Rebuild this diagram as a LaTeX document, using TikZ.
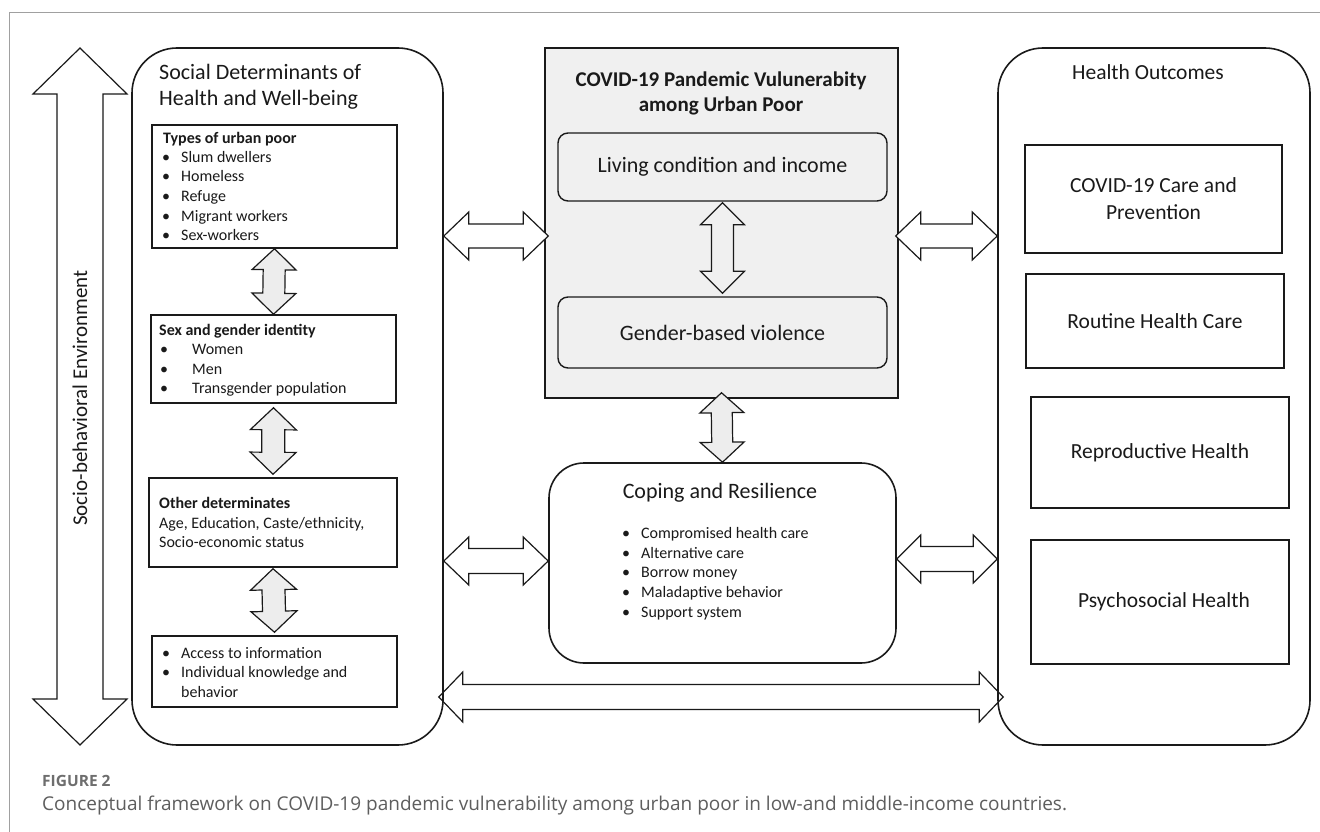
\documentclass[tikz,border=0pt]{standalone}
\usepackage{fontspec}
\setmainfont{Carlito}
\newfontfamily\capfont{Open Sans}
\usetikzlibrary{calc}
\definecolor{boxgray}{HTML}{F0F0F0}
\definecolor{arrgray}{HTML}{EDEDED}
\definecolor{ink}{HTML}{1A1A1A}
\definecolor{framegray}{HTML}{A0A0A0}
\definecolor{capgray}{HTML}{5E5E5E}
\newcommand{\fs}[2]{\fontsize{#1}{#2}\selectfont}
\newcommand{\bl}[1]{\makebox[#1][l]{\textbullet}}
\newcommand{\dblarrow}[6][]{%
  \coordinate (dA) at (#2);
  \coordinate (dB) at (#3);
  \coordinate (hA) at ($(dA)!#4!(dB)$);
  \coordinate (hB) at ($(dB)!#4!(dA)$);
  \draw[dblarr,#1] (dA) -- ($(hA)!#5!90:(dB)$) -- ($(hA)!#6!90:(dB)$)
    -- ($(hB)!#6!-90:(dA)$) -- ($(hB)!#5!-90:(dA)$) -- (dB)
    -- ($(hB)!#5!90:(dA)$) -- ($(hB)!#6!90:(dA)$)
    -- ($(hA)!#6!-90:(dB)$) -- ($(hA)!#5!-90:(dB)$) -- cycle;
}
\tikzset{
  bigbox/.style={draw=ink, line width=1.6pt, rounded corners=45pt, inner sep=0pt},
  sqbox/.style={draw=ink, line width=1.5pt, inner sep=0pt},
  rbox/.style={draw=ink, line width=1.4pt, rounded corners=10pt, inner sep=0pt, text=ink},
  dblarr/.style={draw=ink, line width=1.2pt, line join=miter},
  txt/.style={inner sep=0pt, anchor=base west, text=ink},
  ctxt/.style={inner sep=0pt, anchor=base, text=ink},
}
\begin{document}
\begin{tikzpicture}[x=1pt,y=-1pt]
\useasboundingbox (0,0) rectangle (1320,832);
\fill[white] (0,0) rectangle (1320,832);
\draw[framegray, line width=1pt] (1321,13) -- (9,13) -- (9,833);

% level coordinates
\coordinate (y236) at (0,236);
\coordinate (y561) at (0,561);
\coordinate (y559) at (0,559);
\coordinate (y697) at (0,697);

% big containers
\node[bigbox, minimum width=311pt, minimum height=697pt] (L) at (287.5,396.5) {};
\node[bigbox, minimum width=312pt, minimum height=697pt] (R) at (1154,396.5) {};
\node[sqbox, fill=boxgray, minimum width=353pt, minimum height=350pt] (G) at (721.5,223) {};
\node[rbox, fill=boxgray, minimum width=329pt, minimum height=68pt, font=\fs{22}{26}] (Liv) at (722.5,167) {Living condition and income};
\node[rbox, fill=boxgray, minimum width=329pt, minimum height=71pt, font=\fs{22}{26}] (Gen) at (722.5,332.5) {Gender-based violence};
\node[bigbox, rounded corners=35pt, minimum width=347pt, minimum height=200pt] (C) at (722.5,563) {};

% right boxes
\node[sqbox, text=ink, align=center, minimum width=257pt, minimum height=108pt, font=\fs{21.5}{27}] (R1) at (1153.5,199) {COVID-19 Care and\\Prevention};
\node[sqbox, text=ink, minimum width=258pt, minimum height=94pt, font=\fs{21.5}{26}] (R2) at (1155,321) {Routine Health Care};
\node[sqbox, text=ink, minimum width=258pt, minimum height=111pt, font=\fs{21.5}{26}] (R3) at (1160,452.5) {Reproductive Health};
\node[sqbox, text=ink, minimum width=258pt, minimum height=124pt, font=\fs{21.5}{26}] (R4) at (1160,602) {\hspace*{8pt}Psychosocial Health};

% left boxes
\node[sqbox, minimum width=245pt, minimum height=123pt] (B1) at (274.5,186.5) {};
\node[sqbox, minimum width=245pt, minimum height=88pt] (B2) at (273.5,359) {};
\node[sqbox, minimum width=248pt, minimum height=89pt] (B3) at (273,522.5) {};
\node[sqbox, minimum width=245pt, minimum height=71pt] (B4) at (274.5,671.5) {};

% big vertical arrow
\coordinate (vt) at (80,48);
\coordinate (vb) at (80,745);
\dblarrow[fill=white]{vt}{vb}{46pt}{47pt}{23pt}
\node[inner sep=0pt, rotate=90, text=ink, font=\fs{21}{25}] (SB) at (80,398) {Socio-behavioral Environment};

% gray vertical arrows
\dblarrow[fill=arrgray]{B1.south}{B2.north}{21pt}{22pt}{11pt}
\dblarrow[fill=arrgray]{$(B2.south)+(0,4)$}{$(B3.north)+(0,-3)$}{22pt}{23pt}{11.5pt}
\dblarrow[fill=arrgray]{$(B3.south)+(0,1)$}{$(B4.north)+(0,-3)$}{21pt}{23pt}{11.5pt}
\dblarrow[fill=boxgray]{$(Liv.south)+(0,1)$}{$(Gen.north)+(0,-3)$}{22pt}{22pt}{11pt}
\dblarrow[fill=arrgray]{$(G.south)+(0,-6)$}{C.north}{20pt}{22pt}{10.5pt}

% horizontal arrows
\dblarrow[fill=white]{L.east |- y236}{$(G.west |- y236)+(4,0)$}{25pt}{24pt}{12pt}
\dblarrow[fill=white]{$(G.east |- y236)+(-3,0)$}{R.west |- y236}{25pt}{24pt}{12pt}
\dblarrow[fill=white]{L.east |- y561}{C.west |- y561}{25pt}{24pt}{12.5pt}
\dblarrow[fill=white]{C.east |- y559}{R.west |- y559}{24pt}{24pt}{12.5pt}
\dblarrow{$(L.east |- y697)+(-5,0)$}{$(R.west |- y697)+(6,0)$}{24pt}{25pt}{12.5pt}

% left column titles
\node[txt, font=\fs{22}{26}] (LT1) at (159,80) {Social Determinants of};
\node[txt, font=\fs{22}{26}] (LT2) at (159,106) {Health and Well-being};

% B1 text
\node[txt, font=\fs{16}{19}\bfseries] (b1t) at (163,143) {Types of urban poor};
\node[txt, font=\fs{16}{19}] (b1a) at (162,163) {\bl{19pt}Slum dwellers};
\node[txt, font=\fs{16}{19}] (b1b) at (162,182) {\bl{19pt}Homeless};
\node[txt, font=\fs{16}{19}] (b1c) at (162,201) {\bl{19pt}Refuge};
\node[txt, font=\fs{16}{19}] (b1d) at (162,221) {\bl{19pt}Migrant workers};
\node[txt, font=\fs{16}{19}] (b1e) at (162,240) {\bl{19pt}Sex-workers};
% B2 text
\node[txt, font=\fs{16}{19}\bfseries] (b2t) at (159,335) {Sex and gender identity};
\node[txt, font=\fs{16}{19}] (b2a) at (160,354) {\bl{32pt}Women};
\node[txt, font=\fs{16}{19}] (b2b) at (160,374) {\bl{32pt}Men};
\node[txt, font=\fs{16}{19}] (b2c) at (160,393) {\bl{32pt}Transgender population};
% B3 text
\node[txt, font=\fs{16}{19}\bfseries] (b3t) at (159,508) {Other determinates};
\node[txt, font=\fs{16}{19}] (b3a) at (159,528) {Age, Education, Caste/ethnicity,};
\node[txt, font=\fs{16}{19}] (b3b) at (159,547) {Socio-economic status};
% B4 text
\node[txt, font=\fs{16}{19}] (b4a) at (162,658) {\bl{19pt}Access to information};
\node[txt, font=\fs{16}{19}] (b4b) at (162,677) {\bl{19pt}Individual knowledge and};
\node[txt, font=\fs{16}{19}] (b4c) at (181,697) {behavior};

% center title
\node[ctxt, font=\fs{21}{25}\bfseries] (GT1) at (721,87) {COVID-19 Pandemic Vulunerabity};
\node[ctxt, font=\fs{21}{25}\bfseries] (GT2) at (721,112) {among Urban Poor};

% coping
\node[ctxt, font=\fs{22}{26}] (CT) at (720,498) {Coping and Resilience};
\node[txt, font=\fs{16}{19}] (c1) at (622,538) {\bl{19pt}Compromised health care};
\node[txt, font=\fs{16}{19}] (c2) at (622,558) {\bl{19pt}Alternative care};
\node[txt, font=\fs{16}{19}] (c3) at (622,577) {\bl{19pt}Borrow money};
\node[txt, font=\fs{16}{19}] (c4) at (622,597) {\bl{19pt}Maladaptive behavior};
\node[txt, font=\fs{16}{19}] (c5) at (622,617) {\bl{19pt}Support system};

% right title
\node[ctxt, font=\fs{21.5}{26}] (RT) at (1148,80) {Health Outcomes};

% caption
\node[txt, text=capgray!90, font=\capfont\fs{15.5}{18}\bfseries] (FIG) at (42,786) {FIGURE 2};
\node[txt, text=capgray, font=\capfont\fs{19}{23}] (CAP) at (42,810) {Conceptual framework on COVID-19 pandemic vulnerability among urban poor in low-and middle-income countries.};
\end{tikzpicture}
\end{document}
